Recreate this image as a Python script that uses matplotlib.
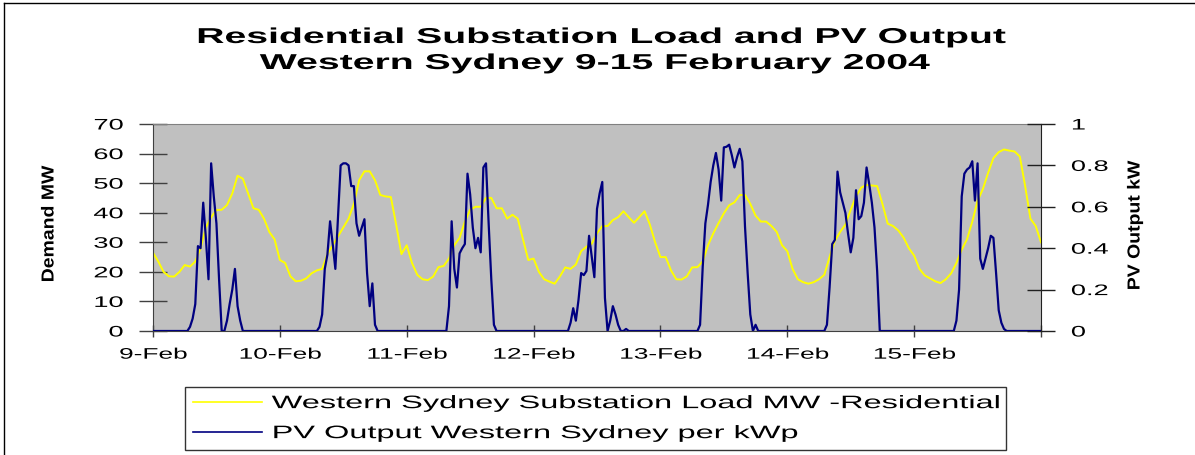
import matplotlib
matplotlib.use("Agg")
import matplotlib.pyplot as plt
import numpy as np
from matplotlib.patheffects import AbstractPathEffect
from matplotlib.transforms import Affine2D
from matplotlib.lines import Line2D

plt.rcParams['font.family'] = ['Liberation Sans', 'DejaVu Sans']

# ---------------------------------------------------------------------------
# Data: 9-15 February 2004, Western Sydney
# ---------------------------------------------------------------------------
day_labels = ['9-Feb', '10-Feb', '11-Feb', '12-Feb', '13-Feb', '14-Feb', '15-Feb']

# Residential substation load (MW), hourly from 00:00 9-Feb to 00:00 16-Feb
load_mw = [
    26.5, 23.5, 20.0, 18.5, 18.4, 20.0, 22.3, 21.8, 23.5, 28.0, 35.0, 38.5,
    40.9, 41.0, 42.6, 46.5, 52.5, 51.5, 46.5, 41.5, 41.0, 38.0, 33.5, 31.0,
    24.0, 23.0, 18.5, 16.8, 17.0, 17.8, 19.5, 20.5, 21.0, 26.0, 29.0, 32.0,
    35.0, 38.0, 43.0, 51.0, 54.0, 54.0, 51.0, 46.0, 45.5, 45.3, 36.0, 26.0,
    29.0, 23.0, 19.0, 17.5, 17.2, 18.4, 21.6, 22.0, 24.5, 29.0, 31.5, 37.0,
    41.0, 42.0, 42.0, 45.0, 45.0, 41.5, 41.5, 38.0, 39.3, 38.0, 31.0, 24.0,
    24.5, 20.0, 17.5, 16.7, 16.0, 18.5, 21.5, 21.0, 22.5, 27.0, 28.5, 29.5,
    33.0, 35.5, 35.5, 37.5, 38.5, 40.5, 38.5, 36.6, 38.5, 40.5, 36.0, 30.0,
    25.0, 25.0, 20.5, 17.5, 17.4, 18.5, 21.5, 21.6, 23.5, 29.0, 33.0, 36.5,
    39.8, 42.5, 43.5, 46.0, 46.0, 43.0, 39.0, 37.0, 37.0, 35.5, 33.5, 29.0,
    27.0, 21.0, 17.5, 16.5, 16.0, 16.5, 17.5, 19.0, 25.0, 30.5, 33.5, 36.0,
    41.0, 45.5, 48.5, 49.4, 49.2, 49.0, 43.0, 36.3, 35.5, 34.0, 31.6, 28.0,
    25.5, 21.0, 18.8, 17.8, 16.8, 16.2, 17.5, 19.5, 23.0, 27.5, 31.0, 37.0,
    44.0, 48.0, 53.5, 58.5, 60.5, 61.4, 61.0, 60.7, 59.0, 49.0, 38.0, 35.5,
    30.0,
]

# PV output per kWp, half-hourly (48 readings per day)
pv_feb09 = [
    0, 0, 0, 0, 0, 0, 0, 0, 0, 0, 0, 0,
    0, 0, 0.02, 0.06, 0.13, 0.41, 0.40, 0.62, 0.45, 0.25, 0.81, 0.65,
    0.52, 0.25, 0, 0, 0.05, 0.13, 0.20, 0.30, 0.12, 0.05, 0, 0,
    0, 0, 0, 0, 0, 0, 0, 0, 0, 0, 0, 0,
]
pv_feb10 = [
    0, 0, 0, 0, 0, 0, 0, 0, 0, 0, 0, 0,
    0, 0, 0, 0.02, 0.08, 0.30, 0.37, 0.53, 0.42, 0.30, 0.55, 0.80,
    0.81, 0.81, 0.80, 0.70, 0.70, 0.52, 0.46, 0.50, 0.54, 0.28, 0.12, 0.23,
    0.03, 0, 0, 0, 0, 0, 0, 0, 0, 0, 0, 0,
]
pv_feb11 = [
    0, 0, 0, 0, 0, 0, 0, 0, 0, 0, 0, 0,
    0, 0, 0, 0, 0.12, 0.53, 0.30, 0.21, 0.375, 0.40, 0.42, 0.76,
    0.66, 0.50, 0.40, 0.45, 0.38, 0.79, 0.81, 0.52, 0.25, 0.03, 0, 0,
    0, 0, 0, 0, 0, 0, 0, 0, 0, 0, 0, 0,
]
pv_feb12 = [
    0, 0, 0, 0, 0, 0, 0, 0, 0, 0, 0, 0,
    0, 0, 0.04, 0.11, 0.05, 0.15, 0.28, 0.27, 0.29, 0.46, 0.36, 0.26,
    0.59, 0.665, 0.72, 0.16, 0, 0.05, 0.12, 0.08, 0.03, 0, 0, 0.01,
    0, 0, 0, 0, 0, 0, 0, 0, 0, 0, 0, 0,
]
pv_feb13 = [
    0, 0, 0, 0, 0, 0, 0, 0, 0, 0, 0, 0,
    0, 0, 0, 0.03, 0.31, 0.52, 0.61, 0.72, 0.80, 0.86, 0.78, 0.63,
    0.887, 0.89, 0.90, 0.85, 0.79, 0.84, 0.88, 0.82, 0.505, 0.28, 0.08, 0,
    0.03, 0, 0, 0, 0, 0, 0, 0, 0, 0, 0, 0,
]
pv_feb14 = [
    0, 0, 0, 0, 0, 0, 0, 0, 0, 0, 0, 0,
    0, 0, 0, 0.03, 0.21, 0.42, 0.44, 0.77, 0.67, 0.62, 0.57, 0.47,
    0.38, 0.45, 0.68, 0.54, 0.555, 0.62, 0.79, 0.71, 0.62, 0.50, 0.29, 0,
    0, 0, 0, 0, 0, 0, 0, 0, 0, 0, 0, 0,
]
pv_feb15 = [
    0, 0, 0, 0, 0, 0, 0, 0, 0, 0, 0, 0,
    0, 0, 0, 0, 0.05, 0.20, 0.65, 0.76, 0.78, 0.79, 0.82, 0.63,
    0.81, 0.35, 0.30, 0.35, 0.40, 0.46, 0.45, 0.28, 0.10, 0.04, 0.01, 0,
    0, 0, 0, 0, 0, 0, 0, 0, 0, 0, 0, 0,
]
pv_midnight_16feb = [0]

load_ticks = [0, 10, 20, 30, 40, 50, 60, 70]
pv_ticks = [0, 0.2, 0.4, 0.6, 0.8, 1.0]
pv_tick_labels = ['0', '0.2', '0.4', '0.6', '0.8', '1']

load_label = 'Western Sydney Substation Load MW -Residential'
pv_label = 'PV Output Western Sydney per kWp'

pv_kw = (pv_feb09 + pv_feb10 + pv_feb11 + pv_feb12 + pv_feb13
         + pv_feb14 + pv_feb15 + pv_midnight_16feb)
hours_load = np.arange(len(load_mw))          # hourly steps
hours_pv = np.arange(len(pv_kw)) * 0.5        # half-hourly steps
day_ticks = np.arange(0, 24 * (len(day_labels) + 1), 24)


# ---------------------------------------------------------------------------
# Wide lettering: glyphs drawn stretched horizontally about an anchor
# ---------------------------------------------------------------------------
class WideText(AbstractPathEffect):
    def __init__(self, sx=1.8, anchor='center'):
        super().__init__()
        self.sx = sx
        self.anchor = anchor

    def draw_path(self, renderer, gc, tpath, affine, rgbFace=None):
        v = tpath.vertices
        if len(v) == 0:
            return
        if self.anchor == 'left':
            cx = 0.0
        elif self.anchor == 'right':
            cx = float(v[:, 0].max())
        else:
            cx = 0.5 * float(v[:, 0].min() + v[:, 0].max())
        stretch = Affine2D().translate(-cx, 0).scale(self.sx, 1).translate(cx, 0)
        renderer.draw_path(gc, tpath, stretch + affine, rgbFace)


W, H = 1195, 455
fig = plt.figure(figsize=(W / 100, H / 100), dpi=100)
fig.patch.set_facecolor('white')


def fx(px):
    return px / W


def fy(py):
    return 1 - py / H


ax = fig.add_axes([fx(153), fy(331), fx(1041) - fx(153), fy(124) - fy(331)])
ax.set_facecolor('#C0C0C0')
l_load, = ax.plot(hours_load, load_mw, color='#FFFF00', lw=1.4, label=load_label)
ax.set_xlim(0, 24 * len(day_labels))
ax.set_ylim(0, 70)

ax2 = ax.twinx()
l_pv, = ax2.plot(hours_pv, pv_kw, color='#000080', lw=1.6, label=pv_label)
ax2.set_ylim(0, 1)

# Spines
ax.spines['top'].set_color('#808080')
ax.spines['left'].set_color('#404040')
ax.spines['bottom'].set_color('#404040')
ax.spines['right'].set_visible(False)
for s in ('left', 'top', 'bottom'):
    ax2.spines[s].set_visible(False)
ax2.spines['right'].set_color('#202020')

# Ticks and tick labels
ax.set_xticks(day_ticks)
ax.set_xticklabels(day_labels + [''])
ax.set_yticks(load_ticks)
ax.set_yticklabels([str(v) for v in load_ticks])
ax2.set_yticks(pv_ticks)
ax2.set_yticklabels(pv_tick_labels)

ax.tick_params(axis='x', direction='inout', length=9, width=1, color='#404040',
               pad=7.5, labelsize=11)
ax.tick_params(axis='y', direction='inout', length=20, width=1, color='#404040',
               pad=11.5, labelsize=11)
ax2.tick_params(axis='y', direction='inout', length=20, width=1, color='#202020',
                pad=11.5, labelsize=11)

for lab in ax.get_xticklabels():
    lab.set_path_effects([WideText(1.72, 'center')])
for lab in ax.get_yticklabels():
    lab.set_path_effects([WideText(1.78, 'right')])
for lab in ax2.get_yticklabels():
    lab.set_path_effects([WideText(1.78, 'left')])

# Axis titles
ax.set_ylabel('Demand MW', fontsize=12.5, fontweight='bold', va='center')
ax.yaxis.set_label_coords((49 - 153) / 888, (331 - 224) / 207)
ax.yaxis.label.set_path_effects([WideText(1.12, 'center')])
ax2.set_ylabel('PV Output kW', fontsize=12.5, fontweight='bold', va='center',
               rotation=90)
ax2.yaxis.set_label_coords((1135 - 153) / 888, (331 - 225) / 207)
ax2.yaxis.label.set_path_effects([WideText(1.12, 'center')])

# Chart title (two lines)
fig.text(fx(601), fy(43), 'Residential Substation Load and PV Output',
         ha='center', va='baseline', fontsize=15.5, fontweight='bold',
         path_effects=[WideText(1.82, 'center')])
fig.text(fx(595), fy(69), 'Western Sydney 9-15 February 2004',
         ha='center', va='baseline', fontsize=15.5, fontweight='bold',
         path_effects=[WideText(1.82, 'center')])

# Legend below the plot
leg = fig.legend(handles=[l_load, l_pv], loc='upper left',
                 bbox_to_anchor=(fx(185), fy(387), fx(1006) - fx(185), 0),
                 mode='expand', borderaxespad=0, fontsize=13,
                 handlelength=3.8, handletextpad=0.55, labelspacing=0.72,
                 borderpad=0.45, fancybox=False, frameon=True)
leg.get_frame().set_edgecolor('#000000')
leg.get_frame().set_linewidth(1.0)
for t in leg.get_texts():
    t.set_path_effects([WideText(1.8, 'left')])
for h in leg.legend_handles:
    h.set_linewidth(1.2)

# Chart-area border (top and left edges)
fig.add_artist(Line2D([fx(4), fx(W + 5)], [fy(3), fy(3)], transform=fig.transFigure,
                      color='black', lw=1.0))
fig.add_artist(Line2D([fx(4), fx(4)], [fy(3), fy(H + 5)], transform=fig.transFigure,
                      color='black', lw=1.0))

fig.savefig('out.png', dpi=100)
